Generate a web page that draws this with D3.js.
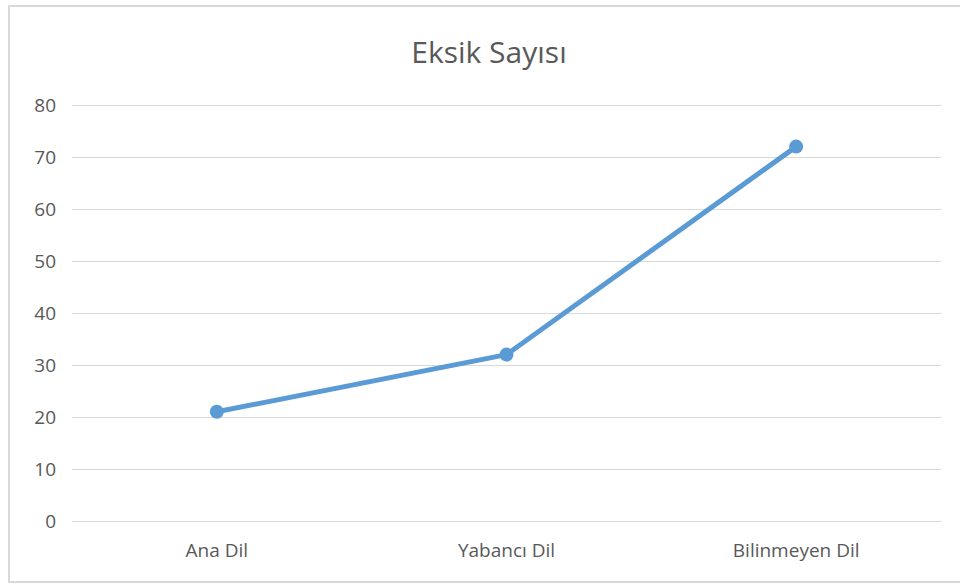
<!DOCTYPE html>
<html>
<head>
<meta charset="utf-8">
<script src="https://cdn.jsdelivr.net/npm/d3@7"></script>
<style>
  body { margin: 0; background: #fff; }
  svg { display: block; }
  text { font-family: "Open Sans", sans-serif; fill: #595959; }
</style>
</head>
<body>
<svg width="960" height="584"></svg>
<script>
const categories = ["Ana Dil", "Yabancı Dil", "Bilinmeyen Dil"];
const values = [21, 32, 72];
const yTicks = [0, 10, 20, 30, 40, 50, 60, 70, 80];
const title = "Eksik Sayısı";

let svg = d3.select("svg"),
    width = +svg.attr("width"),
    height = +svg.attr("height");

// chart frame
svg.append("rect")
    .attr("x", 9)
    .attr("y", 6)
    .attr("width", 960)
    .attr("height", 576)
    .attr("fill", "#fff")
    .attr("stroke", "#d9d9d9")
    .attr("stroke-width", 2);

const plotLeft = 72, plotRight = 941, plotTop = 105, plotBottom = 521;

let x = d3.scaleBand()
    .domain(categories)
    .range([plotLeft, plotRight]);

let y = d3.scaleLinear()
    .domain([0, 80])
    .range([plotBottom, plotTop]);

// title
svg.append("text")
    .attr("x", 489)
    .attr("y", 63)
    .attr("text-anchor", "middle")
    .style("font-size", "30px")
    .text(title);

// gridlines + y labels
let yAxis = d3.axisLeft(y)
    .tickValues(yTicks)
    .tickSize(-(plotRight - plotLeft))
    .tickPadding(16);

let gy = svg.append("g")
    .attr("transform", "translate(" + plotLeft + ",0)")
    .call(yAxis);
gy.select(".domain").remove();
gy.selectAll(".tick line").attr("stroke", "#d9d9d9").attr("stroke-width", 1);
gy.selectAll(".tick text")
    .attr("fill", "#595959")
    .style("font-size", "19px")
    .style("font-family", "\"Open Sans\", sans-serif");

// x labels
let xAxis = d3.axisBottom(x).tickSize(0).tickPadding(23);
let gx = svg.append("g")
    .attr("transform", "translate(0," + plotBottom + ")")
    .call(xAxis);
gx.select(".domain").remove();
gx.selectAll(".tick text")
    .attr("fill", "#595959")
    .style("font-size", "19px")
    .style("font-family", "\"Open Sans\", sans-serif");

const pts = categories.map(function (c, i) {
    return { c: c, v: values[i] };
});

let line = d3.line()
    .x(function (d) { return x(d.c) + x.bandwidth() / 2; })
    .y(function (d) { return y(d.v); });

svg.append("path")
    .datum(pts)
    .attr("d", line)
    .attr("fill", "none")
    .attr("stroke", "#5b9bd5")
    .attr("stroke-width", 5)
    .attr("stroke-linejoin", "round")
    .attr("stroke-linecap", "round");

svg.append("g")
    .selectAll("circle")
    .data(pts)
    .join("circle")
    .attr("cx", function (d) { return x(d.c) + x.bandwidth() / 2; })
    .attr("cy", function (d) { return y(d.v); })
    .attr("r", 7)
    .attr("fill", "#5b9bd5");
</script>
</body>
</html>
